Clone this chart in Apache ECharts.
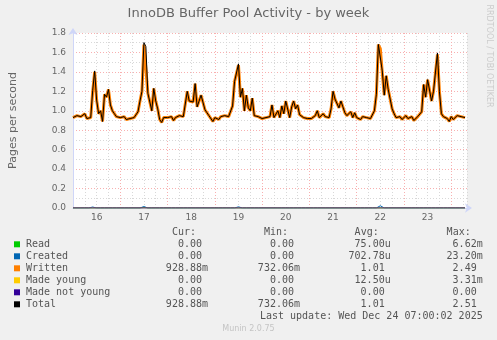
<!DOCTYPE html>
<html>
<head>
<meta charset="utf-8">
<title>InnoDB Buffer Pool Activity - by week</title>
<script src="https://cdn.jsdelivr.net/npm/echarts@6/dist/echarts.min.js"></script>
<style>
  html, body { margin: 0; padding: 0; background: #f0f0f0; }
  #chart { width: 497px; height: 340px; }
</style>
</head>
<body>
<div id="chart"></div>
<script>
// hourly values (pages/s), starting Dec 16 00:00
var day16 = [0.93, 0.91, 0.95, 0.93, 0.94, 0.92, 0.97, 0.92, 0.91, 0.93, 1.20, 1.40, 1.11, 0.97, 1.00, 0.89, 1.17, 1.14, 1.22, 1.06, 1.00, 0.97, 0.94, 0.93];
var day17 = [0.93, 0.92, 0.94, 0.91, 0.93, 0.92, 0.94, 0.93, 0.95, 0.99, 1.10, 1.20, 1.68, 1.66, 1.18, 1.19, 1.00, 1.23, 1.10, 1.02, 0.91, 0.88, 0.93, 0.91];
var day18 = [0.93, 0.91, 0.94, 0.90, 0.93, 0.92, 0.95, 0.93, 0.94, 0.96, 1.20, 1.10, 1.12, 1.09, 1.28, 1.04, 1.10, 1.16, 1.14, 1.01, 0.98, 0.95, 0.94, 0.89];
var day19 = [0.93, 0.95, 0.91, 0.94, 0.92, 0.95, 0.93, 0.94, 0.96, 1.05, 1.30, 1.31, 1.47, 1.14, 1.23, 1.00, 1.16, 1.03, 1.00, 1.13, 0.95, 0.93, 0.94, 0.92];
var day20 = [0.92, 0.90, 0.93, 0.91, 0.94, 1.06, 0.93, 0.95, 1.00, 0.93, 1.05, 0.97, 1.10, 1.12, 0.93, 1.04, 1.10, 1.02, 1.06, 0.96, 0.94, 0.93, 0.95, 0.92];
var day21 = [0.94, 0.92, 0.93, 0.95, 1.00, 0.93, 0.92, 0.97, 0.94, 0.96, 0.93, 1.02, 1.20, 1.12, 1.10, 1.03, 1.10, 1.04, 0.98, 0.95, 0.94, 0.99, 0.93, 0.98];
var day22 = [0.93, 0.95, 0.91, 0.94, 0.92, 0.93, 0.95, 0.92, 0.94, 1.00, 1.17, 1.68, 1.64, 1.39, 1.16, 1.36, 1.22, 1.12, 1.02, 0.97, 0.93, 0.91, 0.94, 0.91];
var day23 = [0.93, 0.95, 0.92, 0.93, 0.94, 0.90, 0.92, 0.94, 0.96, 0.99, 1.27, 1.14, 1.32, 1.34, 1.10, 1.20, 1.21, 1.58, 1.20, 0.97, 0.94, 0.94, 0.92, 0.89];
var day24 = [0.94, 0.91, 0.93, 0.95, 0.93, 0.94, 0.93, 0.93];
var writtenVals = [].concat(day16, day17, day18, day19, day20, day21, day22, day23, day24);

// tiny series, only a few non-zero hours
var createdAt = [10, 11, 36, 84, 156, 157, 185];
var createdVal = [0.010, 0.010, 0.015, 0.012, 0.023, 0.020, 0.015];
var readAt = [36];
var readVal = [0.006];
var youngAt = [155];
var youngVal = [0.003];
var notYoungAt = [];
var notYoungVal = [];

var dayLabels = ['16', '17', '18', '19', '20', '21', '22', '23'];

var legendNames = ['Read', 'Created', 'Written', 'Made young', 'Made not young', 'Total'];
var legendColors = ['#00cc00', '#0066b3', '#ff8000', '#ffcc00', '#330099', '#000000'];
var curVals = ['0.00 ', '0.00 ', '928.88m', '0.00 ', '0.00 ', '928.88m'];
var minVals = ['0.00 ', '0.00 ', '732.06m', '0.00 ', '0.00 ', '732.06m'];
var avgVals = ['75.00u', '702.78u', '1.01 ', '12.50u', '0.00 ', '1.01 '];
var maxVals = ['6.62m', '23.20m', '2.49 ', '3.31m', '0.00 ', '2.51 '];

function sparse(at, val) {
  return writtenVals.map(function (_, i) {
    var k = at.indexOf(i);
    return [i, k < 0 ? 0 : val[k]];
  });
}
var readData = sparse(readAt, readVal);
var createdData = sparse(createdAt, createdVal);
var youngData = sparse(youngAt, youngVal);
var notYoungData = sparse(notYoungAt, notYoungVal);
var writtenData = writtenVals.map(function (v, i) { return [i, v]; });
var totalData = writtenVals.map(function (v, i) {
  return [i, v + readData[i][1] + createdData[i][1] + youngData[i][1] + notYoungData[i][1]];
});

var chart = echarts.init(document.getElementById('chart'));

var FONT = 'DejaVu Sans';
var MONO = '10px "DejaVu Sans Mono"';
var TXT = '#555';

function txt(x, y, t, align) {
  return {
    type: 'text', x: x, y: y, silent: true,
    style: {
      text: t, font: MONO, fill: TXT,
      textAlign: align, align: align,
      textVerticalAlign: 'middle', verticalAlign: 'middle'
    }
  };
}

var els = [];
var colCur = 208, colMin = 300, colAvg = 390.7, colMax = 482.7;
els.push(txt(colCur - 12, 232.3, 'Cur:', 'right'));
els.push(txt(colMin - 12, 232.3, 'Min:', 'right'));
els.push(txt(colAvg - 12, 232.3, 'Avg:', 'right'));
els.push(txt(colMax - 12, 232.3, 'Max:', 'right'));
legendNames.forEach(function (n, i) {
  var y = 244.3 + i * 12;
  els.push({ type: 'rect', silent: true, shape: { x: 14, y: y - 3, width: 6, height: 6 }, style: { fill: legendColors[i] } });
  els.push(txt(26, y, n, 'left'));
  els.push(txt(colCur, y, curVals[i], 'right'));
  els.push(txt(colMin, y, minVals[i], 'right'));
  els.push(txt(colAvg, y, avgVals[i], 'right'));
  els.push(txt(colMax, y, maxVals[i], 'right'));
});
els.push(txt(colMax, 316.3, 'Last update: Wed Dec 24 07:00:02 2025', 'right'));
els.push({
  type: 'text', x: 248.5, y: 329, silent: true,
  style: { text: 'Munin 2.0.75', font: '8px "DejaVu Sans"', fill: '#c4c4c4', textAlign: 'center', align: 'center', textVerticalAlign: 'middle', verticalAlign: 'middle' }
});
els.push({
  type: 'text', x: 489, y: 56, rotation: -Math.PI / 2, silent: true,
  style: { text: 'RRDTOOL / TOBI OETIKER', font: '8px "DejaVu Sans"', fill: '#cccccc', textAlign: 'center', align: 'center', textVerticalAlign: 'middle', verticalAlign: 'middle' }
});

function lineSeries(name, data, color, width, z) {
  return {
    name: name, type: 'line', data: data, showSymbol: false, symbol: 'none',
    lineStyle: { color: color, width: width },
    itemStyle: { color: color },
    z: z, silent: true
  };
}

var option = {
  backgroundColor: '#f0f0f0',
  animation: false,
  title: {
    text: 'InnoDB Buffer Pool Activity - by week',
    left: 'center', top: 7, padding: 0,
    textStyle: { fontFamily: FONT, fontSize: 13, fontWeight: 'normal', color: '#666' }
  },
  grid: { left: 67, top: 33, width: 400, height: 175, show: true, backgroundColor: '#ffffff', borderWidth: 0 },
  xAxis: {
    type: 'value', min: 0, max: 200, interval: 6,
    axisLine: { lineStyle: { color: '#cfd6f8' }, symbol: ['none', 'arrow'], symbolSize: [7, 7], symbolOffset: [0, 5] },
    axisTick: { show: false },
    axisLabel: {
      color: '#666', fontFamily: FONT, fontSize: 9, margin: 5,
      formatter: function (v) { return v % 24 === 12 ? dayLabels[(v - 12) / 24] : ''; }
    },
    splitLine: { lineStyle: { color: ['#f8b0b0', '#d8d8d8', '#d8d8d8', '#d8d8d8'], type: [1, 2] } }
  },
  yAxis: {
    type: 'value', min: 0, max: 1.8, interval: 0.1,
    name: 'Pages per second', nameLocation: 'middle', nameGap: 54,
    nameTextStyle: { fontFamily: FONT, fontSize: 11, color: '#666' },
    axisLine: { show: true, lineStyle: { color: '#cfd6f8' }, symbol: ['none', 'arrow'], symbolSize: [7, 7], symbolOffset: [0, 5] },
    axisTick: { show: false },
    axisLabel: {
      color: '#666', fontFamily: FONT, fontSize: 9, margin: 7,
      formatter: function (v) { var t = Math.round(v * 10); return t % 2 === 0 ? (t / 10).toFixed(1) : ''; }
    },
    splitLine: { lineStyle: { color: ['#f8b0b0', '#d8d8d8'], type: [1, 2] } }
  },
  series: [
    lineSeries('Read', readData, '#00cc00', 1, 2),
    lineSeries('Created', createdData, '#0066b3', 1, 3),
    lineSeries('Written', writtenData, '#ff8000', 3, 4),
    lineSeries('Made young', youngData, '#ffcc00', 1, 5),
    lineSeries('Made not young', notYoungData, '#330099', 1, 6),
    lineSeries('Total', totalData, '#000000', 1, 7)
  ],
  graphic: els
};
chart.setOption(option);
</script>
</body>
</html>
